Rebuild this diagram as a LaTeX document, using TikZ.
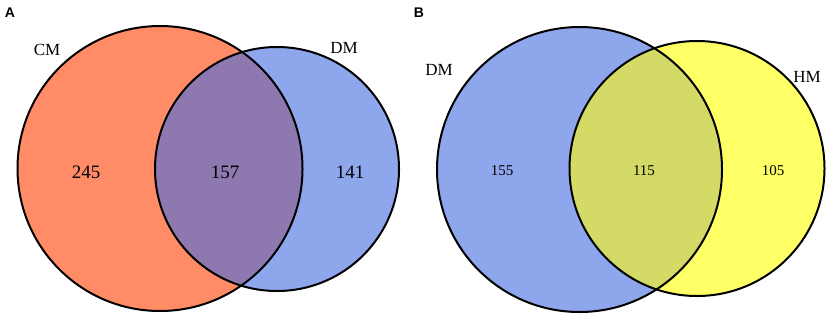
\documentclass[tikz,border=0pt]{standalone}
\usepackage{fontspec}
\setmainfont{Liberation Serif}
\newfontfamily\panelfont{Liberation Sans}
\usepackage{xcolor}
\usepackage{tikz}

\definecolor{cmcol}{RGB}{255,140,102}
\definecolor{dmcol}{RGB}{141,166,236}
\definecolor{hmcol}{RGB}{255,255,102}
\definecolor{cmdmcol}{RGB}{142,120,176}
\definecolor{dmhmcol}{RGB}{211,218,102}

\begin{document}
\begin{tikzpicture}[x=1pt, y=-1pt,
    setline/.style={draw=black, line width=2pt},
    setname/.style={font=\fontsize{17}{20}\selectfont},
    countA/.style={font=\fontsize{19}{22}\selectfont},
    countB/.style={font=\fontsize{15}{18}\selectfont},
    panel/.style={font=\panelfont\bfseries\fontsize{14}{16}\selectfont}
]
\useasboundingbox (0,0) rectangle (829,317);

% panel A: CM and DM
\fill[cmcol] (160,168.5) circle[radius=142.5];
\fill[dmcol] (277,169) circle[radius=122];
\begin{scope}
  \clip (160,168.5) circle[radius=142.5];
  \fill[cmdmcol] (277,169) circle[radius=122];
\end{scope}
\draw[setline] (160,168.5) circle[radius=142.5];
\draw[setline] (277,169) circle[radius=122];

\node[panel] (pA) at (10,13) {A};
\node[setname] (cmA) at (47,50) {CM};
\node[setname] (dmA) at (344,48) {DM};
\node[countA] (onlyCM) at (86,172) {245};
\node[countA] (bothA) at (225,172) {157};
\node[countA] (onlyDM) at (350,172) {141};

% panel B: DM and HM
\fill[dmcol] (579.5,169.5) circle[radius=142.5];
\fill[hmcol] (697,168.5) circle[radius=127.5];
\begin{scope}
  \clip (579.5,169.5) circle[radius=142.5];
  \fill[dmhmcol] (697,168.5) circle[radius=127.5];
\end{scope}
\draw[setline] (579.5,169.5) circle[radius=142.5];
\draw[setline] (697,168.5) circle[radius=127.5];

\node[panel] (pB) at (419,13) {B};
\node[setname] (dmB) at (439,70) {DM};
\node[setname] (hmB) at (807,77) {HM};
\node[countB] (onlyDMB) at (502,171) {155};
\node[countB] (bothB) at (644,171) {115};
\node[countB] (onlyHM) at (773,171) {105};
\end{tikzpicture}
\end{document}
